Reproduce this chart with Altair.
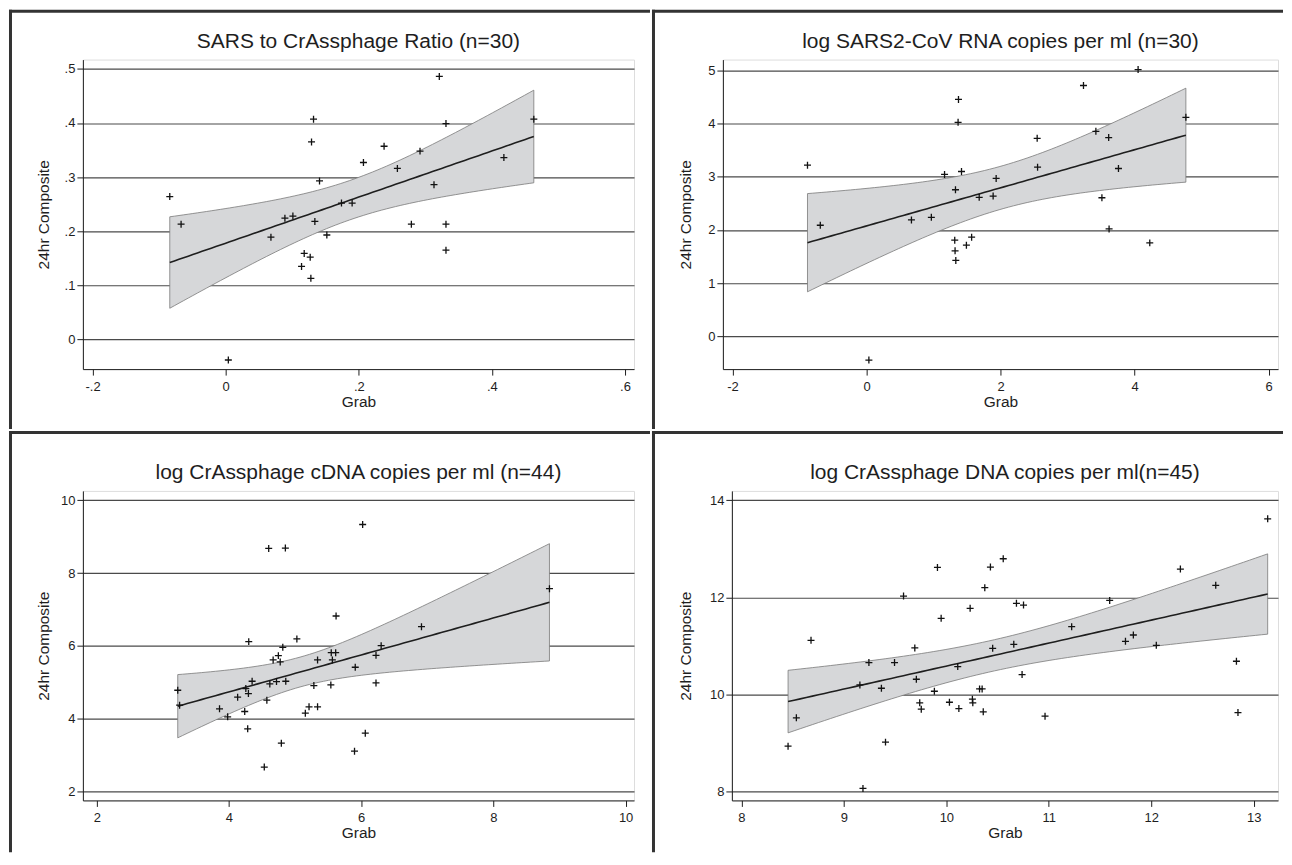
import altair as alt
import numpy as np
import pandas as pd

FONT = "Liberation Sans"
INK = "#1e1e1e"
BORDER = "#333333"

# ---------------- data ----------------
p1_title = "SARS to CrAssphage Ratio (n=30)"
p1_grab = [-0.084, -0.067, 0.004, 0.068, 0.089, 0.101, 0.114, 0.118, 0.127, 0.128,
           0.129, 0.132, 0.134, 0.141, 0.152, 0.174, 0.190, 0.207, 0.238, 0.258,
           0.279, 0.292, 0.313, 0.321, 0.331, 0.331, 0.331, 0.418, 0.463]
p1_comp = [0.264, 0.213, -0.038, 0.189, 0.224, 0.228, 0.135, 0.159, 0.152, 0.113,
           0.365, 0.407, 0.218, 0.293, 0.193, 0.252, 0.252, 0.327, 0.357, 0.316,
           0.213, 0.348, 0.286, 0.486, 0.399, 0.213, 0.165, 0.336, 0.407]
p1_xticks = [-0.2, 0, 0.2, 0.4, 0.6]
p1_yticks = [0, 0.1, 0.2, 0.3, 0.4, 0.5]

p2_title = "log SARS2-CoV RNA copies per ml (n=30)"
p2_grab = [-0.882, -0.691, 0.034, 0.669, 0.966, 1.163, 1.315, 1.320, 1.326, 1.331,
           1.365, 1.371, 1.416, 1.489, 1.567, 1.680, 1.888, 1.933, 2.545, 2.551,
           3.236, 3.421, 3.511, 3.612, 3.618, 3.758, 4.051, 4.225, 4.764]
p2_comp = [3.219, 2.088, -0.450, 2.188, 2.238, 3.044, 1.806, 1.606, 2.756, 1.425,
           4.025, 4.456, 3.100, 1.713, 1.863, 2.613, 2.638, 2.969, 3.725, 3.181,
           4.719, 3.856, 2.606, 3.738, 2.019, 3.156, 5.019, 1.756, 4.119]
p2_xticks = [-2, 0, 2, 4, 6]
p2_yticks = [0, 1, 2, 3, 4, 5]

p3_title = "log CrAssphage cDNA copies per ml (n=44)"
p3_grab = [3.225, 3.253, 3.857, 3.980, 4.131, 4.238, 4.255, 4.283, 4.299, 4.294,
           4.350, 4.534, 4.573, 4.601, 4.618, 4.668, 4.719, 4.747, 4.775, 4.792,
           4.814, 4.853, 4.859, 5.027, 5.155, 5.211, 5.284, 5.340, 5.340, 5.541,
           5.547, 5.564, 5.614, 5.620, 5.899, 5.910, 6.022, 6.062, 6.224, 6.224,
           6.302, 6.912, 8.848]
p3_comp = [4.785, 4.374, 4.274, 4.055, 4.594, 4.201, 4.831, 3.726, 6.119, 4.694,
           5.032, 2.676, 4.511, 8.676, 4.959, 5.616, 5.023, 5.735, 5.562, 3.333,
           5.963, 8.685, 5.032, 6.192, 4.155, 4.329, 4.913, 5.616, 4.329, 4.932,
           5.817, 5.616, 5.817, 6.822, 3.114, 5.416, 9.333, 3.607, 5.744, 4.986,
           6.009, 6.530, 7.571]
p3_xticks = [2, 4, 6, 8, 10]
p3_yticks = [2, 4, 6, 8, 10]

p4_title = "log CrAssphage DNA copies per ml(n=45)"
p4_grab = [8.455, 8.536, 8.679, 9.156, 9.186, 9.244, 9.366, 9.406, 9.494, 9.582,
           9.692, 9.707, 9.740, 9.755, 9.883, 9.913, 9.949, 10.030, 10.111, 10.122,
           10.232, 10.254, 10.258, 10.324, 10.349, 10.360, 10.375, 10.430, 10.452, 10.555,
           10.658, 10.684, 10.739, 10.753, 10.963, 11.223, 11.594, 11.748, 11.825, 12.049,
           12.284, 12.629, 12.831, 12.846, 13.136]
p4_comp = [8.938, 9.521, 11.116, 10.199, 8.068, 10.658, 10.130, 9.021, 10.658, 12.027,
           10.959, 10.315, 9.829, 9.699, 10.068, 12.616, 11.568, 9.842, 10.575, 9.712,
           11.774, 9.904, 9.829, 10.116, 10.116, 9.644, 12.199, 12.623, 10.952, 12.795,
           11.034, 11.877, 10.411, 11.842, 9.555, 11.397, 11.938, 11.096, 11.226, 11.014,
           12.582, 12.247, 10.685, 9.630, 13.616]
p4_xticks = [8, 9, 10, 11, 12, 13]
p4_yticks = [8, 10, 12, 14]

ONE = pd.DataFrame({"k": [0]})


def fit_band(x, y, npts=80):
    """Least-squares line with 95% CI of the mean prediction (like Stata lfitci)."""
    x = np.asarray(x, float)
    y = np.asarray(y, float)
    n = len(x)
    b, a = np.polyfit(x, y, 1)
    resid = y - (a + b * x)
    s = np.sqrt((resid ** 2).sum() / (n - 2))
    xm = x.mean()
    sxx = ((x - xm) ** 2).sum()
    z = 1.959964
    nu = n - 2
    t = z + (z ** 3 + z) / (4 * nu) + (5 * z ** 5 + 16 * z ** 3 + 3 * z) / (96 * nu ** 2)
    xs = np.linspace(x.min(), x.max(), npts)
    fit = a + b * xs
    se = s * np.sqrt(1.0 / n + (xs - xm) ** 2 / sxx)
    return pd.DataFrame({"Grab": xs, "fit": fit, "lo": fit - t * se, "hi": fit + t * se})


def rect(x, x2, y, y2):
    return alt.Chart(ONE).mark_rect(color=BORDER).encode(
        x=alt.value(x), x2=alt.value(x2), y=alt.value(y), y2=alt.value(y2))


def panel(title, grab, comp, xticks, yticks, xdom, ydom, w, h, lab_expr,
          ytitle_x, borders):
    pts = pd.DataFrame({"Grab": grab, "Comp": comp})
    band = fit_band(grab, comp)
    xsc = alt.Scale(domain=xdom, nice=False, zero=False)
    ysc = alt.Scale(domain=ydom, nice=False, zero=False)
    xax = alt.Axis(values=xticks, title="Grab", grid=False, labelExpr=lab_expr,
                   tickSize=6, labelPadding=5, labelFontSize=13, labelFont=FONT,
                   labelColor=INK, tickColor=INK, domainColor=INK,
                   titleFont=FONT, titleFontSize=15.5, titleFontWeight="normal",
                   titleColor=INK, titleX=w / 2, titleY=37, titleAlign="center",
                   titleBaseline="alphabetic")
    yax = alt.Axis(values=yticks, title="24hr Composite", grid=True,
                   gridColor="#4a4a4a", gridWidth=1.2, labelExpr=lab_expr,
                   tickSize=6, labelPadding=2, labelFontSize=13, labelFont=FONT,
                   labelColor=INK, tickColor=INK, domainColor=INK,
                   titleFont=FONT, titleFontSize=15.5, titleFontWeight="normal",
                   titleColor=INK, titleX=ytitle_x, titleY=h / 2, titleAngle=270,
                   titleAlign="center", titleBaseline="alphabetic")
    X = lambda f: alt.X(f, type="quantitative", scale=xsc, axis=xax)
    Y = lambda f: alt.Y(f, type="quantitative", scale=ysc, axis=yax)
    area = alt.Chart(band).mark_area(fill="#d6d7d9", stroke="#7a7a7a",
                                     strokeWidth=0.8).encode(
        x=X("Grab"), y=Y("lo"), y2="hi:Q")
    line = alt.Chart(band).mark_line(color=INK, strokeWidth=1.6).encode(
        x=X("Grab"), y=Y("fit"))
    dots = alt.Chart(pts).mark_point(shape="M-1,0H1M0,-1V1", filled=False,
                                     color="#111111", strokeWidth=1.3,
                                     size=49, opacity=1).encode(
        x=X("Grab"), y=Y("Comp"))
    ttl = alt.Chart(ONE).mark_text(text=title, font=FONT, fontSize=21,
                                   color=INK, align="center",
                                   baseline="alphabetic").encode(
        x=alt.value(w / 2), y=alt.value(-11.5))
    layers = [area, line, dots, ttl] + [rect(*b) for b in borders]
    return alt.layer(*layers).properties(width=w, height=h)


lab_frac = ("datum.value == 0 ? '0' : (datum.value < 0 ? '-' : '') + '.' + "
            "toString(round(abs(datum.value) * 10))")
lab_int = "toString(datum.value)"

p1 = panel(p1_title, p1_grab, p1_comp, p1_xticks, p1_yticks,
           [-0.21455, 0.61354], [-0.0548, 0.51716], 552, 310, lab_frac, -34.6,
           [(-74, 568, -50, -47), (-74, -71, -50, 370)])
p2 = panel(p2_title, p2_grab, p2_comp, p2_xticks, p2_yticks,
           [-2.1445, 6.1385], [-0.6203, 5.2068], 556, 310, lab_int, -32,
           [(-71, 561, -50, -47), (-71, -68, -50, 370)])
p3 = panel(p3_title, p3_grab, p3_comp, p3_xticks, p3_yticks,
           [1.790, 10.127], [1.7616, 10.2548], 552, 310, lab_int, -34.6,
           [(-74, 568, -60, -57), (-74, -71, -60, 362)])
p4 = panel(p4_title, p4_grab, p4_comp, p4_xticks, p4_yticks,
           [7.9065, 13.2368], [7.8212, 14.191], 547, 310, lab_int, -41,
           [(-80, 552, -60, -57), (-80, -77, -60, 362)])

row1 = alt.hconcat(p1, p2, spacing=0)
row2 = alt.hconcat(p3, p4, spacing=0)
chart = alt.vconcat(row1, row2, spacing=0).properties(
    padding=0, background="white"
).configure_view(strokeWidth=0, stroke="transparent").configure(font=FONT)

chart.save("out.html", embed_options={"renderer": "svg", "actions": False})
